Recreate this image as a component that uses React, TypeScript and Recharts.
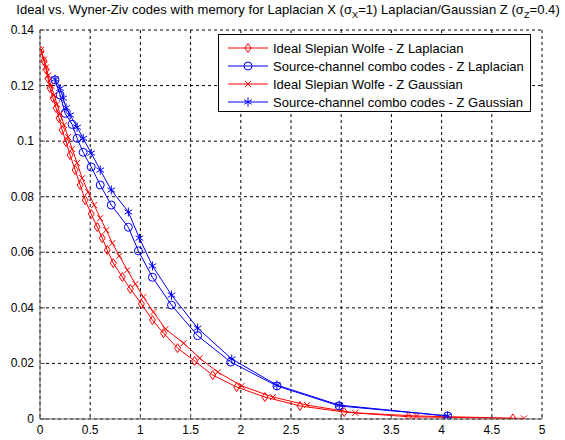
import React from 'react';
import { LineChart, Line, XAxis, YAxis, CartesianGrid, Legend } from 'recharts';

const X_TICKS = [0, 0.5, 1, 1.5, 2, 2.5, 3, 3.5, 4, 4.5, 5];
const Y_TICKS = [0, 0.02, 0.04, 0.06, 0.08, 0.1, 0.12, 0.14];

// Ideal Slepian Wolfe - Z Laplacian
const swLapX = [0.01, 0.04, 0.06, 0.08, 0.1, 0.13, 0.16, 0.19, 0.22, 0.26, 0.3, 0.35, 0.4, 0.45, 0.51, 0.57, 0.62, 0.67, 0.73, 0.82, 0.9, 1.01, 1.12, 1.23, 1.37, 1.54, 1.72, 1.96, 2.24, 2.59, 3.03, 3.67, 4.71];
const swLapY = [0.1325, 0.1288, 0.1258, 0.1225, 0.1191, 0.1155, 0.1119, 0.1083, 0.104, 0.0997, 0.095, 0.0896, 0.0842, 0.0788, 0.0738, 0.0691, 0.0651, 0.0608, 0.0561, 0.0511, 0.0468, 0.0414, 0.0356, 0.0309, 0.0255, 0.0209, 0.0158, 0.0115, 0.0079, 0.0047, 0.0025, 0.0008, 0.0002];

// Source-channel combo codes - Z Laplacian
const scLapX = [0.15, 0.2, 0.25, 0.32, 0.37, 0.43, 0.51, 0.6, 0.71, 0.88, 0.98, 1.12, 1.31, 1.57, 1.9, 2.36, 2.98, 4.06];
const scLapY = [0.122, 0.1166, 0.11, 0.106, 0.101, 0.096, 0.0907, 0.0842, 0.077, 0.069, 0.0605, 0.051, 0.041, 0.03, 0.0205, 0.0119, 0.0047, 0.0011];

// Ideal Slepian Wolfe - Z Gaussian
const swGauX = [0.01, 0.04, 0.06, 0.08, 0.11, 0.14, 0.17, 0.2, 0.24, 0.28, 0.32, 0.37, 0.42, 0.48, 0.54, 0.6, 0.66, 0.72, 0.79, 0.87, 0.95, 1.03, 1.13, 1.25, 1.43, 1.59, 1.77, 2.01, 2.32, 2.66, 3.14, 3.75, 4.82];
const swGauY = [0.1328, 0.1293, 0.1265, 0.1236, 0.12, 0.1166, 0.1133, 0.1098, 0.1058, 0.1015, 0.0972, 0.0921, 0.0867, 0.0817, 0.077, 0.0723, 0.068, 0.0633, 0.0587, 0.0536, 0.0486, 0.0439, 0.0385, 0.0324, 0.0273, 0.0219, 0.0169, 0.0119, 0.0079, 0.005, 0.0022, 0.0011, 0.0002];

// Source-channel combo codes - Z Gaussian
const scGauX = [0.15, 0.2, 0.23, 0.26, 0.3, 0.37, 0.43, 0.51, 0.6, 0.71, 0.88, 0.99, 1.12, 1.31, 1.57, 1.91, 2.36, 2.98, 4.06];
const scGauY = [0.1223, 0.119, 0.1155, 0.112, 0.1094, 0.105, 0.101, 0.0957, 0.0896, 0.0824, 0.0745, 0.0651, 0.0551, 0.0446, 0.0327, 0.0216, 0.0122, 0.005, 0.0011];

const toPoints = (xs: number[], ys: number[]) => xs.map((x, i) => ({ x, y: ys[i] }));

const RED = '#ff0000';
const BLUE = '#0000ff';
const AXIS = '#666666';
const FONT = '"Liberation Sans", Arial, sans-serif';

const Diamond = ({ cx, cy, c }: any) => (
  <path d={`M${cx},${cy - 4.5}L${cx + 3},${cy}L${cx},${cy + 4.5}L${cx - 3},${cy}Z`} fill="none" stroke={c} strokeWidth={1} />
);
const Circle = ({ cx, cy, c }: any) => <circle cx={cx} cy={cy} r={4} fill="none" stroke={c} strokeWidth={1} />;
const Cross = ({ cx, cy, c }: any) => (
  <path d={`M${cx - 3},${cy - 3}L${cx + 3},${cy + 3}M${cx - 3},${cy + 3}L${cx + 3},${cy - 3}`} stroke={c} strokeWidth={1} />
);
const Star = ({ cx, cy, c }: any) => (
  <path
    d={`M${cx},${cy - 4.5}L${cx},${cy + 4.5}M${cx - 3.8},${cy - 2.3}L${cx + 3.8},${cy + 2.3}M${cx - 3.8},${cy + 2.3}L${cx + 3.8},${cy - 2.3}`}
    stroke={c}
    strokeWidth={1}
  />
);

const SERIES = [
  { name: 'Ideal Slepian Wolfe - Z Laplacian', data: toPoints(swLapX, swLapY), color: RED, Marker: Diamond },
  { name: 'Source-channel combo codes - Z Laplacian', data: toPoints(scLapX, scLapY), color: BLUE, Marker: Circle },
  { name: 'Ideal Slepian Wolfe - Z Gaussian', data: toPoints(swGauX, swGauY), color: RED, Marker: Cross },
  { name: 'Source-channel combo codes - Z Gaussian', data: toPoints(scGauX, scGauY), color: BLUE, Marker: Star },
];

const BottomTick = (p: any) => (
  <g>
    <line x1={p.x} y1={p.y} x2={p.x} y2={p.y - 5} stroke={AXIS} />
    <text x={p.x} y={p.y + 15} textAnchor="middle" fontSize={12} fill="#000" fontFamily={FONT}>
      {p.payload.value}
    </text>
  </g>
);
const TopTick = (p: any) => <line x1={p.x} y1={p.y} x2={p.x} y2={p.y + 5} stroke={AXIS} />;
const LeftTick = (p: any) => (
  <g>
    <line x1={p.x} y1={p.y} x2={p.x + 5} y2={p.y} stroke={AXIS} />
    <text x={p.x - 6} y={p.y + 4} textAnchor="end" fontSize={12} fill="#000" fontFamily={FONT}>
      {p.payload.value}
    </text>
  </g>
);
const RightTick = (p: any) => <line x1={p.x} y1={p.y} x2={p.x - 5} y2={p.y} stroke={AXIS} />;

const LegendBox = () => (
  <div
    style={{
      border: '1px solid #000',
      background: '#fff',
      width: 313,
      height: 78,
      padding: '4px 0 0 0',
      boxSizing: 'border-box',
      fontFamily: FONT,
      fontSize: 13,
    }}
  >
    {SERIES.map((s) => (
      <div key={s.name} style={{ display: 'flex', alignItems: 'center', height: 18, whiteSpace: 'nowrap' }}>
        <svg width={54} height={16} style={{ flex: 'none' }}>
          <line x1={9} y1={8} x2={49} y2={8} stroke={s.color} />
          <s.Marker cx={29} cy={8} c={s.color} />
        </svg>
        <span style={{ color: '#000' }}>{s.name}</span>
      </div>
    ))}
  </div>
);

export default function App() {
  return (
    <div style={{ position: 'absolute', left: 0, top: 0, width: 565, height: 440, background: '#fff', fontFamily: FONT }}>
      <div
        style={{
          position: 'absolute',
          left: 0,
          top: 2,
          width: 576,
          textAlign: 'center',
          fontSize: 13,
          letterSpacing: 0.05,
          whiteSpace: 'nowrap',
          zIndex: 2,
          color: '#000',
        }}
      >
        Ideal vs. Wyner-Ziv codes with memory for Laplacian X (σ<sub style={{ fontSize: 9 }}>X</sub>=1) Laplacian/Gaussian Z (σ
        <sub style={{ fontSize: 9 }}>Z</sub>=0.4)
      </div>
      <LineChart width={565} height={440} margin={{ top: 30, right: 23, left: 0, bottom: 0 }}>
        <CartesianGrid stroke="#000" strokeDasharray="3 3" />
        <XAxis
          type="number"
          dataKey="x"
          domain={[0, 5]}
          ticks={X_TICKS}
          interval={0}
          height={21}
          tickSize={0}
          tickMargin={0}
          tick={BottomTick}
          stroke={AXIS}
          allowDataOverflow
        />
        <XAxis
          xAxisId="top"
          orientation="top"
          type="number"
          domain={[0, 5]}
          ticks={X_TICKS}
          interval={0}
          height={0}
          tickSize={0}
          tickMargin={0}
          tick={TopTick}
          stroke={AXIS}
        />
        <YAxis
          type="number"
          domain={[0, 0.14]}
          ticks={Y_TICKS}
          interval={0}
          width={40}
          tickSize={0}
          tickMargin={0}
          tick={LeftTick}
          stroke={AXIS}
          allowDataOverflow
        />
        <YAxis
          yAxisId="right"
          orientation="right"
          type="number"
          domain={[0, 0.14]}
          ticks={Y_TICKS}
          interval={0}
          width={0}
          tickSize={0}
          tickMargin={0}
          tick={RightTick}
          stroke={AXIS}
        />
        <Legend
          layout="vertical"
          align="center"
          verticalAlign="middle"
          content={() => <LegendBox />}
          wrapperStyle={{ position: 'absolute', left: 218, top: 34, width: 313, height: 78 }}
        />
        {SERIES.map((s) => (
          <Line
            key={s.name}
            name={s.name}
            data={s.data}
            dataKey="y"
            type="linear"
            stroke={s.color}
            strokeWidth={1}
            isAnimationActive={false}
            activeDot={false}
            dot={(p: any) => <s.Marker key={p.index} cx={p.cx} cy={p.cy} c={s.color} />}
          />
        ))}
      </LineChart>
    </div>
  );
}
